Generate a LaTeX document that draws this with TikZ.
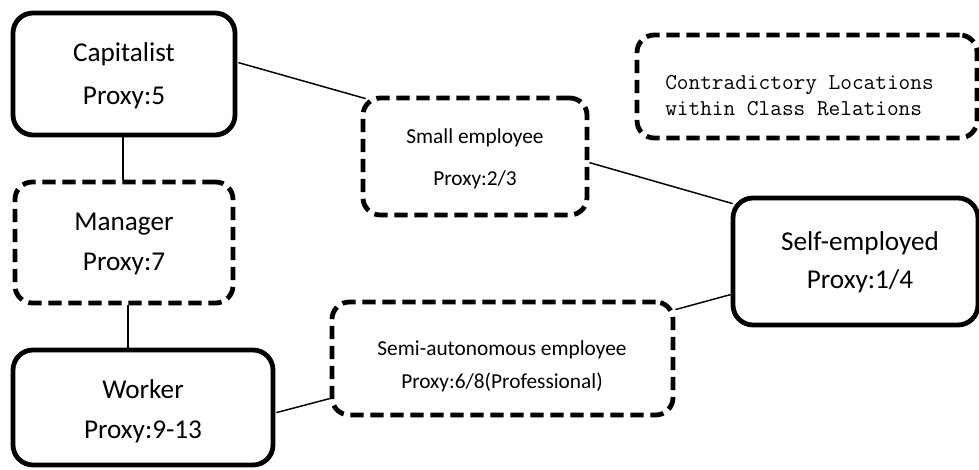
\documentclass[tikz,border=0pt]{standalone}
\usepackage{fontspec}
\setmainfont{Carlito}
\usetikzlibrary{calc}
\begin{document}
\begin{tikzpicture}[x=0.75pt,y=-0.75pt,
  box/.style={draw=black, line width=3.6pt, rounded corners=15pt, fill=white, inner sep=0pt},
  dbox/.style={box, dash pattern=on 10pt off 5pt, rounded corners=13pt},
  bigtxt/.style={font=\fontsize{20.4}{24}\selectfont, anchor=base, inner sep=0pt},
  smalltxt/.style={font=\fontsize{16}{19}\selectfont, anchor=base, inner sep=0pt},
  monotxt/.style={font=\ttfamily\fontsize{17}{20}\selectfont, anchor=base west, inner sep=0pt},
  conn/.style={line width=1.1pt}]
\useasboundingbox (0,0) rectangle (979,470);
% boxes
\node[box,  minimum width=166.5pt,  minimum height=91.5pt]  (cap)   at (124,74)    {};
\node[dbox, minimum width=163.5pt,  minimum height=90.75pt] (man)   at (124,242.5) {};
\node[box,  minimum width=195pt,    minimum height=86.25pt] (wor)   at (143,407.5) {};
\node[dbox, minimum width=168pt,    minimum height=87.75pt] (small) at (475,156.5) {};
\node[dbox, minimum width=255.75pt, minimum height=84.75pt] (semi)  at (502.5,358.5) {};
\node[box,  minimum width=183.75pt, minimum height=95.25pt] (self)  at (855.5,261.5) {};
\node[dbox, minimum width=255pt,    minimum height=77.25pt] (contr) at (807,86.5) {};
% texts
\node[bigtxt] (capA) at (124,62) {Capitalist};
\node[bigtxt] (capB) at (124,105) {Proxy:5};
\node[bigtxt] (manA) at (124,230.7) {Manager};
\node[bigtxt] (manB) at (124,270.7) {Proxy:7};
\node[bigtxt] (worA) at (143,399) {Worker};
\node[bigtxt] (worB) at (143,439) {Proxy:9-13};
\node[bigtxt] (selfA) at (860,250.7) {Self-employed};
\node[bigtxt] (selfB) at (860,289) {Proxy:1/4};
\node[smalltxt] (smallA) at (475,143.7) {Small employee};
\node[smalltxt] (smallB) at (475,185.4) {Proxy:2/3};
\node[smalltxt] (semiA) at (502,355.4) {Semi-autonomous employee};
\node[smalltxt] (semiB) at (502,388.7) {Proxy:6/8(Professional)};
\node[monotxt] (contrA) at (665,90) {Contradictory Locations};
\node[monotxt] (contrB) at (665,116) {within Class Relations};
% connectors
\draw[conn] ($(cap.north east)+(1,52)$) -- ($(small.north west)+(5,3)$);
\draw[conn] ($(cap.south)+(-1,0)$) -- ($(man.north)+(-1,0)$);
\draw[conn] ($(man.south)+(4,0)$) -- ($(wor.north)+(-15,0)$);
\draw[conn] ($(small.north east)+(0,67)$) -- ($(self.north west)+(2,8)$);
\draw[conn] ($(wor.north east)+(1,65)$) -- ($(semi.north west)+(0,99)$);
\draw[conn] ($(semi.north east)+(0,10)$) -- ($(self.north west)+(0,99)$);
\end{tikzpicture}
\end{document}
